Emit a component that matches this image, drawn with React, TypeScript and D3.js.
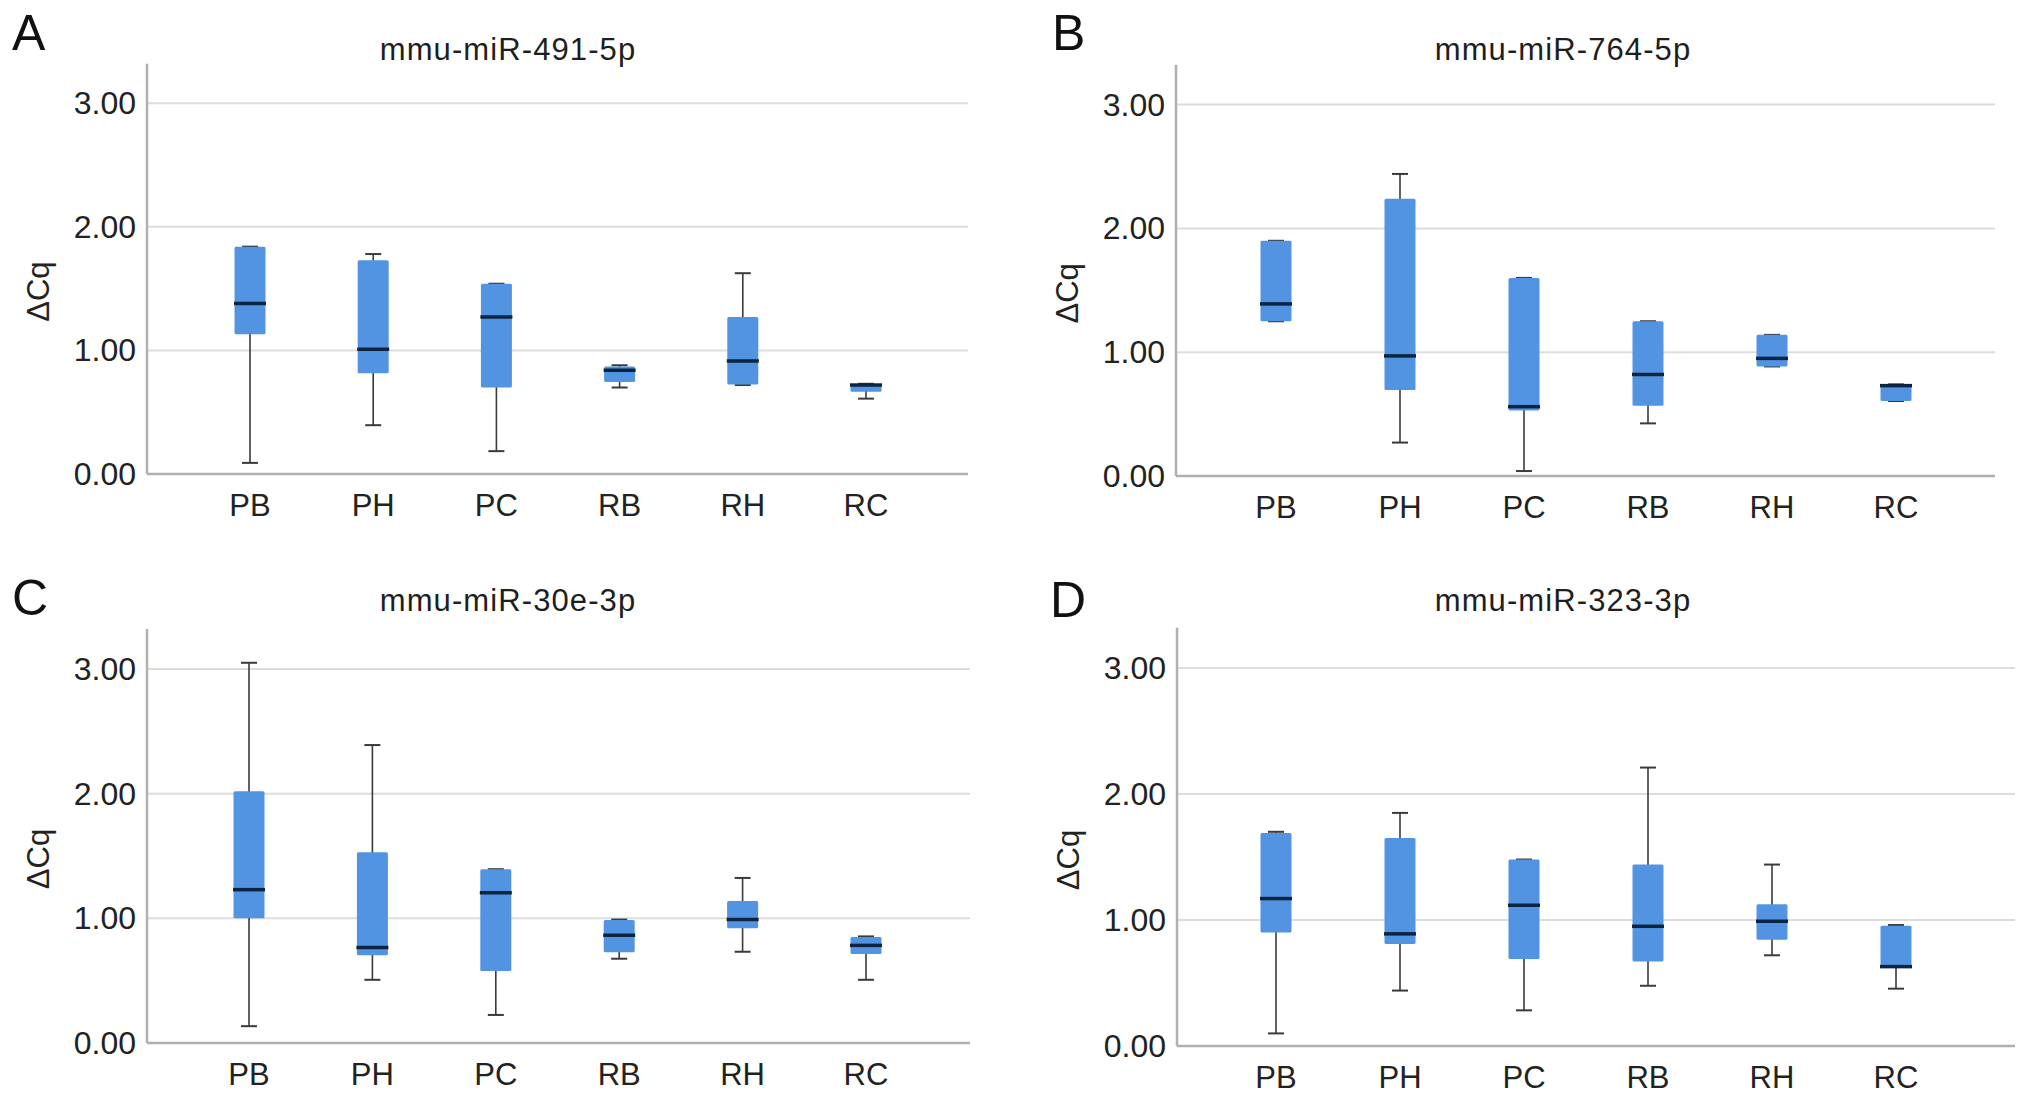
import * as d3 from "d3";

const groups = ["PB", "PH", "PC", "RB", "RH", "RC"];
const yTicks = [0, 1, 2, 3];
const panelLetters = ["A", "B", "C", "D"];
const titles = ["mmu-miR-491-5p", "mmu-miR-764-5p", "mmu-miR-30e-3p", "mmu-miR-323-3p"];

// five-number summaries
const miR491Min = [0.09, 0.395, 0.185, 0.7, 0.72, 0.61];
const miR491Q1 = [1.13, 0.815, 0.7, 0.745, 0.725, 0.665];
const miR491Med = [1.38, 1.01, 1.27, 0.84, 0.915, 0.72];
const miR491Q3 = [1.84, 1.73, 1.54, 0.87, 1.27, 0.728];
const miR491Max = [1.84, 1.78, 1.54, 0.88, 1.625, 0.73];

const miR764Min = [1.25, 0.27, 0.04, 0.425, 0.885, 0.606];
const miR764Q1 = [1.25, 0.694, 0.53, 0.567, 0.885, 0.606];
const miR764Med = [1.39, 0.97, 0.56, 0.82, 0.95, 0.73];
const miR764Q3 = [1.9, 2.24, 1.6, 1.25, 1.14, 0.74];
const miR764Max = [1.9, 2.44, 1.6, 1.25, 1.14, 0.74];

const miR30eMin = [0.135, 0.507, 0.225, 0.676, 0.732, 0.507];
const miR30eQ1 = [1.0, 0.704, 0.577, 0.727, 0.92, 0.713];
const miR30eMed = [1.23, 0.766, 1.206, 0.865, 0.99, 0.783];
const miR30eQ3 = [2.02, 1.53, 1.394, 0.986, 1.14, 0.85];
const miR30eMax = [3.05, 2.39, 1.394, 0.99, 1.324, 0.855];

const miR323Min = [0.1, 0.44, 0.283, 0.478, 0.72, 0.455];
const miR323Q1 = [0.9, 0.81, 0.69, 0.67, 0.844, 0.63];
const miR323Med = [1.17, 0.89, 1.117, 0.95, 0.99, 0.63];
const miR323Q3 = [1.69, 1.65, 1.48, 1.44, 1.125, 0.955];
const miR323Max = [1.7, 1.85, 1.48, 2.21, 1.44, 0.96];

const series = [
  { min: miR491Min, q1: miR491Q1, med: miR491Med, q3: miR491Q3, max: miR491Max },
  { min: miR764Min, q1: miR764Q1, med: miR764Med, q3: miR764Q3, max: miR764Max },
  { min: miR30eMin, q1: miR30eQ1, med: miR30eMed, q3: miR30eQ3, max: miR30eMax },
  { min: miR323Min, q1: miR323Q1, med: miR323Med, q3: miR323Q3, max: miR323Max },
];

// pixel layout of each panel
const LAYOUT = [
  { left: 147, right: 968, y0: 474, y3: 103.3, first: 250, last: 866, titleX: 508, titleY: 60, letterX: 12, letterY: 50 },
  { left: 1176, right: 1995, y0: 476, y3: 104.6, first: 1276, last: 1896, titleX: 1563, titleY: 60, letterX: 1052, letterY: 50 },
  { left: 147, right: 970, y0: 1043, y3: 669, first: 249, last: 866, titleX: 508, titleY: 611, letterX: 12, letterY: 615 },
  { left: 1177, right: 2015, y0: 1046, y3: 668, first: 1276, last: 1896, titleX: 1563, titleY: 611, letterX: 1050, letterY: 617 },
];

const FONT = "'Liberation Sans', Arial, Helvetica, sans-serif";
const BOX = "#5294e2";
const MEDIAN = "#0d2440";
const WHISKER = "#3a3a3a";
const GRID = "#dcdcdc";
const AXIS = "#b0b0b0";
const BOX_W = 31;
const CAP_W = 16;

const Panel = ({ i }: { i: number }) => {
  const L = LAYOUT[i];
  const s = series[i];
  const y = d3.scaleLinear().domain([0, 3]).range([L.y0, L.y3]);
  const x = d3.scalePoint<string>().domain(groups).range([L.first, L.last]);
  const axisTop = y(3.32);

  return (
    <g>
      <text x={L.letterX} y={L.letterY} fontFamily={FONT} fontSize={50} fill="#111">
        {panelLetters[i]}
      </text>
      <text
        x={L.titleX}
        y={L.titleY}
        textAnchor="middle"
        fontFamily={FONT}
        fontSize={31}
        letterSpacing={1.1}
        fill="#1e1e1e"
      >
        {titles[i]}
      </text>

      {yTicks.map((t) => (
        <g key={t}>
          {t > 0 && (
            <line x1={L.left} x2={L.right} y1={y(t)} y2={y(t)} stroke={GRID} strokeWidth={2} />
          )}
          <text
            x={L.left - 11}
            y={y(t) + 11}
            textAnchor="end"
            fontFamily={FONT}
            fontSize={32}
            fill="#222"
          >
            {d3.format(".2f")(t)}
          </text>
        </g>
      ))}

      <line x1={L.left} x2={L.left} y1={axisTop} y2={L.y0} stroke={AXIS} strokeWidth={2.5} />
      <line x1={L.left} x2={L.right} y1={L.y0} y2={L.y0} stroke={AXIS} strokeWidth={2.5} />

      <text
        transform={`translate(${L.left - 98},${y(1.5) + 3}) rotate(-90)`}
        textAnchor="middle"
        fontFamily={FONT}
        fontSize={31}
        fill="#222"
      >
        ΔCq
      </text>

      {groups.map((g, k) => {
        const cx = x(g) ?? 0;
        return (
          <g key={g}>
            <line x1={cx} x2={cx} y1={y(s.max[k])} y2={y(s.min[k])} stroke={WHISKER} strokeWidth={1.6} />
            <line
              x1={cx - CAP_W / 2}
              x2={cx + CAP_W / 2}
              y1={y(s.max[k])}
              y2={y(s.max[k])}
              stroke={WHISKER}
              strokeWidth={2}
            />
            <line
              x1={cx - CAP_W / 2}
              x2={cx + CAP_W / 2}
              y1={y(s.min[k])}
              y2={y(s.min[k])}
              stroke={WHISKER}
              strokeWidth={2}
            />
            <rect
              x={cx - BOX_W / 2}
              y={y(s.q3[k])}
              width={BOX_W}
              height={Math.max(1, y(s.q1[k]) - y(s.q3[k]))}
              fill={BOX}
              rx={1.5}
            />
            <line
              x1={cx - BOX_W / 2 - 0.5}
              x2={cx + BOX_W / 2 + 0.5}
              y1={y(s.med[k])}
              y2={y(s.med[k])}
              stroke={MEDIAN}
              strokeWidth={3.5}
            />
            <text
              x={cx}
              y={L.y0 + 42}
              textAnchor="middle"
              fontFamily={FONT}
              fontSize={31}
              fill="#222"
            >
              {g}
            </text>
          </g>
        );
      })}
    </g>
  );
};

export default function App() {
  return (
    <div>
      <style>{`body{margin:0;background:#fff}`}</style>
      <svg width={2032} height={1097} viewBox="0 0 2032 1097" style={{ display: "block" }}>
        <rect width={2032} height={1097} fill="#fff" />
        {[0, 1, 2, 3].map((i) => (
          <Panel key={i} i={i} />
        ))}
      </svg>
    </div>
  );
}
